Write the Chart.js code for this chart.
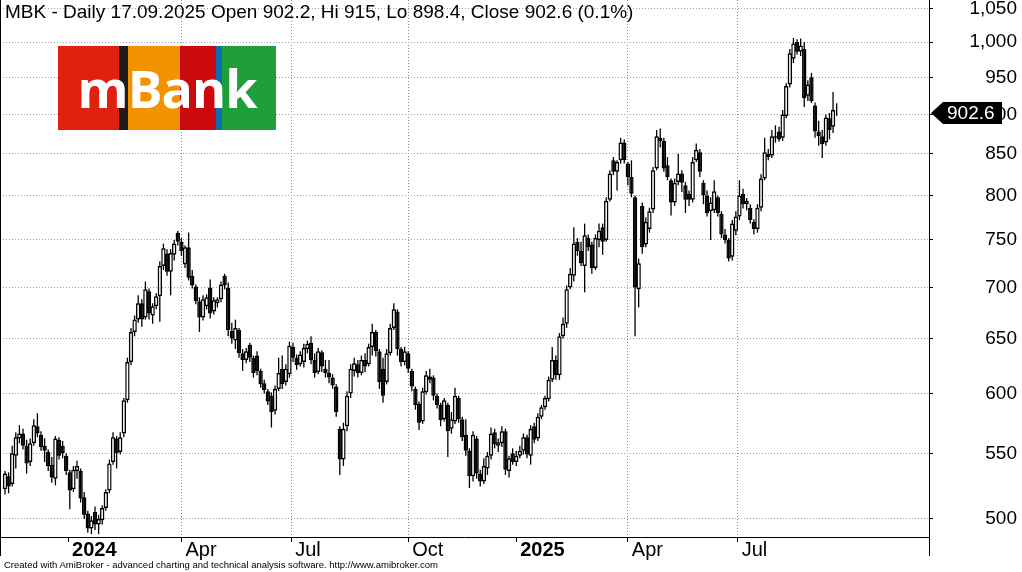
<!DOCTYPE html>
<html>
<head>
<meta charset="utf-8">
<script src="https://cdn.jsdelivr.net/npm/chart.js@4.4.1/dist/chart.umd.min.js"></script>
<style>
  html, body { margin: 0; padding: 0; background: #fff; }
  #wrap { position: relative; width: 1022px; height: 572px; overflow: hidden; }
  #c { position: absolute; left: 0; top: 0; }
  .title { position: absolute; left: 5px; top: 1px; font: 19px/22px "Liberation Sans", Arial, sans-serif; color: #000; white-space: nowrap; }
  .footer { position: absolute; left: 4px; top: 559px; font: 9.5px/12px "Liberation Sans", Arial, sans-serif; color: #000; white-space: nowrap; }
  .logo { position: absolute; left: 58px; top: 46px; width: 218px; height: 84px; display: flex; }
  .logo span { display: block; height: 100%; }
  .logo .txt { position: absolute; left: 0; top: 0; width: 100%; text-align: center; line-height: 84px;
    font: bold 52px/84px "Open Sans", "Liberation Sans", sans-serif; color: #fff; letter-spacing: -1px; }
</style>
</head>
<body>
<div id="wrap">
  <canvas id="c" width="1022" height="572"></canvas>
  <div class="title">MBK - Daily 17.09.2025 Open 902.2, Hi 915, Lo 898.4, Close 902.6 (0.1%)</div>
  <div class="logo">
    <span style="width:61px;background:#e2200f"></span>
    <span style="width:9px;background:#1d1d1b"></span>
    <span style="width:52px;background:#f39200"></span>
    <span style="width:36px;background:#cc0a0e"></span>
    <span style="width:6px;background:#0d6eb5"></span>
    <span style="width:54px;background:#1f9f3a"></span>
    <div class="txt">mBank</div>
  </div>
  <div class="footer">Created with AmiBroker - advanced charting and technical analysis software. http://www.amibroker.com</div>
</div>
<script>
// x ticks sit on the first trading day of each quarter (bar index)
const tickBars = [35, 98, 159, 224, 284, 346, 407];
const tickLabels = ['2024', 'Apr', 'Jul', 'Oct', '2025', 'Apr', 'Jul'];
const yTicks = [500, 550, 600, 650, 700, 750, 800, 850, 900, 950, 1000, 1050];
const lastClose = 902.6;

// one candle per two sessions
const opens = [522,532,526,548,562,566,556,543,558,572,565,556,551,541,530,561,556,548,535,522,
  536,536,516,504,493,505,496,499,508,521,543,562,551,566,594,628,656,668,684,670,
  696,672,681,691,722,735,716,734,758,748,724,742,712,701,686,670,681,700,676,684,
  688,712,700,657,648,658,636,630,644,632,634,620,609,602,598,585,604,622,610,617,
  642,632,626,628,640,646,630,619,637,622,618,614,606,570,545,572,600,620,626,618,
  630,626,642,656,638,622,610,636,660,676,640,628,636,620,604,591,576,601,615,614,
  598,590,578,590,570,576,596,578,565,552,532,562,534,528,538,548,567,556,558,568,
  536,550,543,548,552,563,548,572,562,580,588,595,612,630,616,652,664,700,712,748,
  738,722,752,745,720,750,764,750,795,842,828,842,864,838,822,798,698,788,745,762,
  784,832,870,866,836,818,792,816,826,812,802,795,842,852,815,800,782,783,798,779,
  756,750,732,760,776,802,790,786,770,762,786,820,850,848,872,878,870,898,940,976,
  1000,986,990,925,950,912,878,872,864,895,884,902.2];
const highs = [536,535,556,567,573,570,561,562,578,583,568,562,553,547,564,563,560,550,537,540,
  544,538,520,506,502,509,503,510,522,545,567,564,567,596,632,660,672,692,688,706,
  699,684,694,727,746,740,740,750,760,752,744,758,718,703,690,692,693,708,690,690,
  706,714,705,665,668,660,640,641,646,634,638,622,612,604,601,607,632,634,626,647,
  646,635,638,645,648,652,636,641,639,630,630,617,608,572,575,602,626,632,630,634,
  636,645,664,658,640,632,640,664,684,678,642,642,638,622,606,593,605,620,622,616,
  600,592,596,592,584,605,598,580,578,554,568,564,537,546,551,571,570,562,572,570,
  548,554,552,556,566,565,573,575,583,590,598,615,642,634,655,670,702,720,764,752,
  748,768,756,748,756,768,768,798,830,846,842,870,868,840,842,800,730,792,775,786,
  834,880,882,870,846,820,820,850,830,816,806,846,863,856,818,806,798,818,800,782,
  762,752,772,782,818,808,797,790,773,790,825,870,856,880,886,884,906,942,990,1006,
  1004,1005,1000,946,956,916,892,880,900,902,930,915];
const lows = [518,519,524,538,558,553,534,540,556,563,552,543,536,527,525,545,546,533,507,520,
  530,512,500,490,489,492,489,496,506,519,541,538,549,563,592,625,652,665,661,668,
  668,664,678,666,718,712,692,728,744,733,720,707,699,683,656,667,678,669,673,680,
  685,698,652,645,640,632,620,627,628,614,616,605,600,590,571,582,602,604,607,614,
  628,621,624,623,636,626,614,617,619,614,609,604,580,533,540,568,596,615,614,616,
  619,624,634,633,604,592,608,634,658,634,624,625,618,602,586,569,574,599,609,594,
  587,572,576,547,566,574,575,560,548,523,528,530,524,526,533,545,554,551,555,533,
  531,541,540,546,549,546,541,558,560,578,586,593,610,612,612,650,660,698,706,733,
  722,695,738,714,718,742,734,748,793,824,806,838,838,812,798,652,680,735,742,758,
  780,830,858,828,818,777,788,812,804,780,788,792,840,822,790,776,750,780,776,752,
  746,727,728,755,772,785,783,768,756,758,782,818,842,845,864,865,866,895,936,970,
  982,980,910,918,915,870,860,845,860,868,876,898.4];
const closes = [534,524,550,563,566,556,542,558,573,566,555,552,540,531,562,548,550,536,521,537,
  540,515,503,493,499,496,500,508,520,542,563,550,563,594,628,656,668,684,668,698,
  674,681,691,722,741,716,736,746,748,738,742,710,702,686,670,688,690,674,687,688,
  703,702,658,650,660,636,630,638,632,618,620,608,603,593,584,604,618,608,622,643,
  632,625,635,641,645,630,618,638,624,618,614,607,584,545,570,598,622,627,618,630,
  624,642,656,638,610,598,636,660,678,640,628,638,622,606,590,575,602,616,612,598,
  590,577,594,568,578,598,578,563,552,532,565,534,528,540,548,566,557,559,568,537,
  546,543,548,552,563,549,570,561,580,588,596,612,630,616,652,664,698,714,746,738,
  725,755,742,720,752,760,748,794,826,828,840,864,842,822,802,700,725,742,770,782,
  830,872,866,832,822,792,815,826,815,795,795,840,855,828,800,780,792,805,780,756,
  750,730,768,776,800,790,794,772,762,786,820,852,846,872,870,868,900,938,984,998,
  986,995,922,940,918,878,872,862,896,880,906,902.6];

const wickData = closes.map((c, k) => ({ x: 2 * k, y: [lows[k], highs[k]] }));
const bodyData = closes.map((c, k) => ({ x: 2 * k, y: [opens[k], c] }));

const fontFamily = '"Liberation Sans", Arial, sans-serif';

const frame = {
  id: 'frame',
  afterDraw(chart) {
    const { ctx, chartArea, scales: { y } } = chart;
    ctx.save();
    ctx.strokeStyle = '#000';
    ctx.lineWidth = 1;
    ctx.setLineDash([]);
    ctx.beginPath();
    ctx.moveTo(0, chartArea.bottom + 0.5);
    ctx.lineTo(chartArea.right, chartArea.bottom + 0.5);
    ctx.moveTo(Math.round(chartArea.right) + 0.5, 0);
    ctx.lineTo(Math.round(chartArea.right) + 0.5, 556);
    ctx.moveTo(0.5, 0);
    ctx.lineTo(0.5, 556);
    ctx.stroke();

    // last price tag
    const py = Math.round(y.getPixelForValue(lastClose));
    const left = Math.round(chartArea.right) + 2;
    ctx.fillStyle = '#000';
    ctx.beginPath();
    ctx.moveTo(left, py);
    ctx.lineTo(left + 12, py - 11);
    ctx.lineTo(left + 71, py - 11);
    ctx.lineTo(left + 71, py + 11);
    ctx.lineTo(left + 12, py + 11);
    ctx.closePath();
    ctx.fill();
    ctx.fillStyle = '#fff';
    ctx.font = '19px ' + fontFamily;
    ctx.textBaseline = 'middle';
    ctx.textAlign = 'left';
    ctx.fillText(lastClose.toFixed(1), left + 16, py + 1);
    ctx.restore();
  }
};

new Chart(document.getElementById('c'), {
  type: 'bar',
  data: {
    datasets: [
      {
        data: wickData,
        backgroundColor: '#000',
        borderWidth: 0,
        barThickness: 1.3,
        grouped: false,
        inflateAmount: 0,
        order: 2
      },
      {
        data: bodyData,
        backgroundColor: ctx => closes[ctx.dataIndex] >= opens[ctx.dataIndex] ? '#fff' : '#000',
        borderColor: '#000',
        borderWidth: 1.5,
        borderSkipped: false,
        barThickness: 4.4,
        grouped: false,
        inflateAmount: 0,
        order: 1
      }
    ]
  },
  options: {
    responsive: false,
    animation: false,
    layout: { padding: { left: 0, top: 0, bottom: 0, right: 5 } },
    plugins: { legend: { display: false }, tooltip: { enabled: false } },
    scales: {
      x: {
        type: 'linear',
        bounds: 'data',
        min: -2.78,
        max: 513.3,
        offset: false,
        afterBuildTicks: s => { s.ticks = tickBars.map(v => ({ value: v })); },
        afterFit: s => { s.height = 35; s.paddingLeft = 0; s.paddingRight = 0; },
        grid: {
          offset: false,
          color: c => (tickLabels[c.index] || '').length === 4 ? 'rgba(0,0,0,0)' : '#8c8c8c',
          tickColor: '#000',
          tickLength: 5,
          tickBorderDash: []
        },
        border: { display: false, dash: [1, 2] },
        ticks: {
          autoSkip: false,
          maxRotation: 0,
          align: 'start',
          labelOffset: 4,
          padding: -4,
          color: '#000',
          font: c => ({ family: fontFamily, size: 20, weight: (tickLabels[c.index] || '').length === 4 ? 'bold' : 'normal' }),
          callback: (v, i) => tickLabels[i]
        }
      },
      y: {
        type: 'logarithmic',
        position: 'right',
        bounds: 'data',
        min: 487,
        max: 1063,
        afterBuildTicks: s => { s.ticks = yTicks.map(v => ({ value: v })); },
        afterFit: s => { s.width = 88; s.paddingTop = 0; s.paddingBottom = 0; },
        grid: { color: '#a0a0a0', tickColor: '#000', tickLength: 4, tickBorderDash: [] },
        border: { display: false, dash: [1, 2] },
        ticks: {
          crossAlign: 'far',
          padding: 31,
          color: '#000',
          font: { family: fontFamily, size: 19 },
          callback: v => v.toLocaleString('en-US')
        }
      }
    }
  },
  plugins: [frame]
});
</script>
</body>
</html>
